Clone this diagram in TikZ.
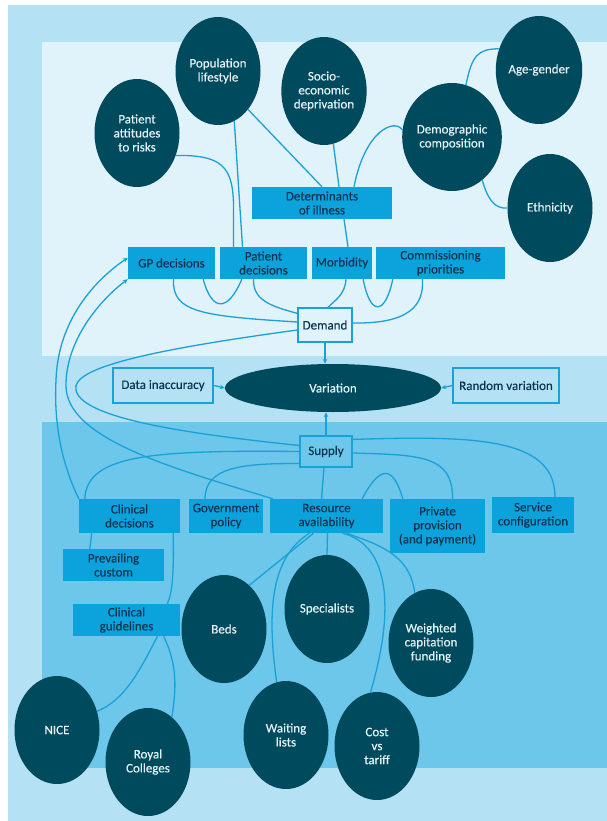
\documentclass[tikz,border=0pt]{standalone}
\usepackage{fontspec}
\setmainfont[FakeBold=0.35]{Carlito}
\usetikzlibrary{arrows.meta,calc,shapes.geometric}
\definecolor{outerbg}{HTML}{B4E1F3}
\definecolor{toppanel}{HTML}{E0F2FA}
\definecolor{botpanel}{HTML}{6CC7EA}
\definecolor{boxfill}{HTML}{0CA2DB}
\definecolor{boxtext}{HTML}{0A3450}
\definecolor{ellfill}{HTML}{004A5E}
\definecolor{elltext}{HTML}{E6F2F6}
\definecolor{conn}{HTML}{1AA1D7}
\newcommand\myfs{\fontsize{13}{14}\selectfont}
\begin{document}
\begin{tikzpicture}[x=1pt,y=-1pt,
  cbox/.style={fill=boxfill, text=boxtext, inner sep=0pt, align=center, font=\myfs},
  obox/.style={draw=conn, line width=1.2pt, text=boxtext, inner sep=0pt, align=center, font=\myfs},
  blob/.style={ellipse, fill=ellfill, text=elltext, inner sep=0pt, minimum width=85pt, minimum height=108pt, align=center, font=\myfs},
  link/.style={draw=conn, line width=1.3pt},
  tip/.style={-{Stealth[length=5pt,width=4.5pt]}}
]
\useasboundingbox (0,0) rectangle (607,821);
\fill[white] (0,0) rectangle (607,821);
\fill[outerbg] (8,5) rectangle (607,821);
\fill[toppanel] (42,42) rectangle (607,356);
\fill[botpanel] (42,422) rectangle (607,768);

% ellipses top
\node[blob] (poplife) at (218,71) {Population\\lifestyle};
\node[blob] (socio) at (324,91) {Socio-\\economic\\deprivation};
\node[blob] (attitudes) at (137,133) {Patient\\attitudes\\to risks};
\node[blob] (demog) at (452,137) {Demographic\\composition};
\node[blob] (agegender) at (539,70) {Age-gender};
\node[blob] (ethnicity) at (550,208) {Ethnicity};

% boxes top
\node[cbox, minimum width=140pt, minimum height=32pt] (determinants) at (322,203) {Determinants\\of illness};
\node[cbox, minimum width=87pt, minimum height=32pt] (gp) at (171.5,263) {GP decisions};
\node[cbox, minimum width=87pt, minimum height=32pt] (patdec) at (263.5,263) {Patient\\decisions};
\node[cbox, minimum width=60pt, minimum height=32pt] (morb) at (342,263) {Morbidity};
\node[cbox, minimum width=129pt, minimum height=32pt] (comm) at (440.5,263) {Commissioning\\priorities};
\node[obox, fill=toppanel, minimum width=54pt, minimum height=34pt] (demand) at (325,325) {Demand};

% middle
\node[ellipse, fill=ellfill, text=elltext, inner sep=0pt, minimum width=216pt, minimum height=48pt, font=\myfs] (variation) at (333,388) {Variation};
\node[obox, minimum width=100pt, minimum height=35pt] (datainacc) at (163,385.5) {Data inaccuracy};
\node[obox, minimum width=106pt, minimum height=35pt] (random) at (506,385.5) {Random variation};

% bottom boxes
\node[obox, minimum width=52pt, minimum height=31pt] (supply) at (326,451.5) {Supply};
\node[cbox, minimum width=101pt, minimum height=34pt] (clindec) at (129.5,516) {Clinical\\decisions};
\node[cbox, minimum width=74pt, minimum height=34pt] (govpol) at (226,516) {Government\\policy};
\node[cbox, minimum width=113pt, minimum height=34pt] (resavail) at (326.5,516) {Resource\\availability};
\node[cbox, minimum width=95pt, minimum height=54pt] (private) at (437.5,526) {Private\\provision\\(and payment)};
\node[cbox, minimum width=82pt, minimum height=36pt] (servconf) at (533,515) {Service\\configuration};
\node[cbox, minimum width=101pt, minimum height=32pt] (prevail) at (113.5,565) {Prevailing\\custom};
\node[cbox, minimum width=107pt, minimum height=32pt] (clinguide) at (126.5,620) {Clinical\\guidelines};

% bottom ellipses
\node[blob] (beds) at (224,629) {Beds};
\node[blob] (specialists) at (327,609) {Specialists};
\node[blob] (weighted) at (431,643) {Weighted\\capitation\\funding};
\node[blob] (nice) at (57,730) {NICE};
\node[blob] (royal) at (148,762) {Royal\\Colleges};
\node[blob] (waiting) at (286,735) {Waiting\\lists};
\node[blob] (cost) at (377,746) {Cost\\vs\\tariff};

% top connectors
\draw[link] (demog.75) .. controls (472,55) and (478,49) .. (agegender.152);
\draw[link] (demog.-55) .. controls (488,200) and (495,209) .. (ethnicity.west);
\draw[link] (demog.172) .. controls (395,118) and (365,130) .. ($(determinants.north)+(32,0)$);
\draw[link] (socio.-80) -- ($(determinants.north)+(17,0)$);
\draw[link] (poplife.-52) -- (determinants.north);
\draw[link] (poplife.-72) -- ($(patdec.north)+(-21,0)$);
\draw[link] (attitudes.-30) .. controls (220,155) and (233,165) .. (233.5,205) -- ($(patdec.north)+(-30,0)$);
\draw[link] ($(determinants.south)+(22,0)$) -- ($(morb.north)+(6,0)$);

% row to demand
\draw[link] ($(gp.south)+(2,0)$) .. controls (172,312) and (200,316) .. ($(demand.west)+(0,-3)$);
\draw[link] ($(gp.south east)+(-12,0)$) .. controls (212,312) and (228,312) .. ($(patdec.south west)+(22,0)$);
\draw[link] ($(patdec.south)+(-10,0)$) .. controls (253,300) and (270,306) .. ($(demand.north west)+(0,6)$);
\draw[link] ($(morb.south)+(4,0)$) .. controls (345,295) and (335,300) .. ($(demand.north)+(3,0)$);
\draw[link] ($(morb.south east)+(-9,0)$) .. controls (370,316) and (385,316) .. ($(comm.south west)+(17,0)$);
\draw[link] ($(comm.south)+(-18,0)$) .. controls (424,305) and (410,324) .. ($(demand.east)+(0,-2)$);

% demand-supply loop
\draw[link] ($(demand.west)+(0,5)$) .. controls (150,350) and (70,368) .. (76,390) .. controls (82,420) and (200,435) .. ($(supply.west)+(0,-6)$);

% arrows to GP decisions
\draw[link,tip] (clindec.north west) .. controls (60,460) and (54,420) .. (56,380) .. controls (58,320) and (95,280) .. ($(gp.north west)+(0,11)$);
\draw[link,tip] ($(resavail.north west)+(3,0)$) .. controls (180,470) and (65,440) .. (66,385) .. controls (66,340) and (100,300) .. (gp.south west);

% variation arrows
\draw[link,tip] (demand.south) -- (demand.south |- variation.north);
\draw[link,tip] (supply.north) -- (supply.north |- variation.south);
\draw[link,tip] (datainacc.east) -- (variation.west);
\draw[link,tip] (random.west) -- (variation.east);

% supply connectors
\draw[link] (supply.west) .. controls (150,450) and (87,455) .. ($(clindec.north west)+(6,0)$);
\draw[link] ($(supply.south west)+(0,-4)$) .. controls (240,463) and (205,468) .. ($(govpol.north)+(-21,0)$);
\draw[link] ($(supply.south)+(-2,0)$) -- ($(resavail.north)+(-5,0)$);
\draw[link] ($(supply.north east)+(0,4)$) .. controls (470,436) and (555,436) .. ($(servconf.north)+(22,0)$);
\draw[link] ($(supply.east)+(0,1.5)$) .. controls (420,455) and (453,455) .. ($(private.north)+(15,0)$);
\draw[link] ($(resavail.north east)+(-21,0)$) .. controls (380,465) and (393,465) .. ($(private.north west)+(13,0)$);

% lower connectors
\draw[link] ($(clindec.south west)+(13,0)$) -- ($(prevail.north west)+(27,0)$);
\draw[link] ($(clindec.south east)+(-7,0)$) .. controls (174,575) and (172,595) .. ($(clinguide.north east)+(-13,0)$);
\draw[link] ($(clinguide.south)+(31,0)$) .. controls (140,670) and (125,700) .. (nice.25);
\draw[link] ($(clinguide.south)+(37,0)$) .. controls (178,665) and (176,690) .. (royal.62);
\draw[link] ($(resavail.south)+(-13,0)$) -- (beds.60);
\draw[link] ($(resavail.south)+(-17,0)$) .. controls (275,555) and (265,600) .. (waiting.100);
\draw[link] ($(resavail.south)+(1,0)$) -- (specialists.north);
\draw[link] ($(resavail.south)+(16,0)$) .. controls (390,545) and (395,610) .. (cost.97);
\draw[link] ($(resavail.south)+(20,0)$) .. controls (380,545) and (410,555) .. (weighted.108);
\end{tikzpicture}
\end{document}
